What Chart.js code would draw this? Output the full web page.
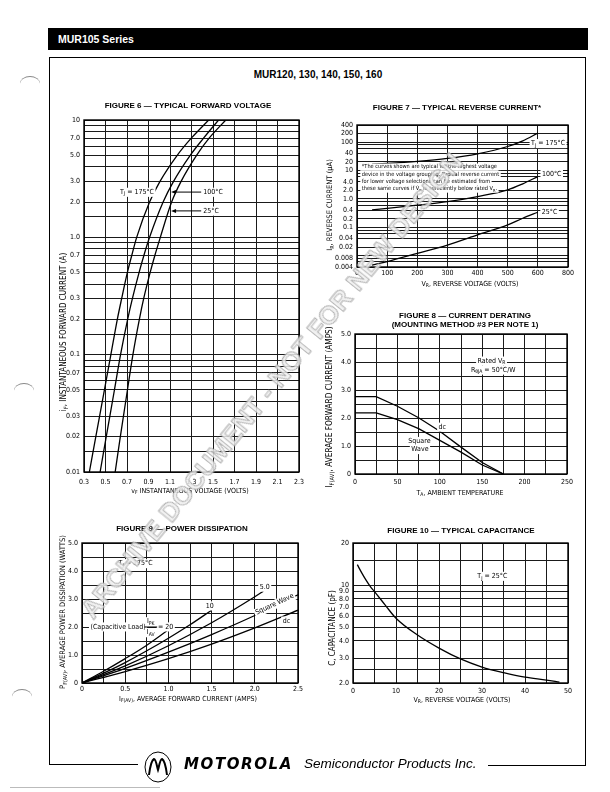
<!DOCTYPE html>
<html>
<head>
<meta charset="utf-8">
<title>MUR105 Series</title>
<script src="https://cdn.jsdelivr.net/npm/chart.js@4.4.1/dist/chart.umd.min.js"></script>
<style>
  html, body { margin: 0; padding: 0; background: #fff; }
  body { position: relative; width: 610px; height: 792px; overflow: hidden; font-family: 'Liberation Sans', Arial, sans-serif; color: #000; }
  canvas.sheet { position: absolute; left: 0; top: 0; pointer-events: none; }
  .header { position: absolute; left: 48px; top: 28px; width: 540px; height: 22px; background: #000; color: #fff;
            font-weight: bold; font-size: 10.5px; line-height: 22px; padding-left: 10px; box-sizing: border-box; }
  .frame { position: absolute; left: 49px; top: 57px; width: 537px; height: 708px; border: 1px solid #000; border-bottom: none; box-sizing: border-box; }
  .rule { position: absolute; height: 0; border-top: 1px solid #000; }
  .main-title { position: absolute; left: 0; width: 636px; top: 69px; text-align: center; font-weight: bold; font-size: 10px; }
  .logo { position: absolute; left: 143px; top: 751px; }
  .moto { position: absolute; left: 184px; top: 755px; font-family: 'DejaVu Sans', sans-serif; font-weight: bold; font-style: italic; font-size: 15px; letter-spacing: 1.6px; }
  .spi { position: absolute; left: 304px; top: 756px; font-style: italic; font-size: 13.5px; }
  .punch { position: absolute; width: 20px; height: 14px; border-top: 1px solid #888; border-radius: 50%; }
  .watermark { position: absolute; left: 272px; top: 386px; transform: translate(-50%, -50%) rotate(-51deg); white-space: nowrap;
               font-weight: bold; font-size: 26px; color: rgba(238,238,238,0.85); -webkit-text-stroke: 0.8px #aaa; z-index: 5; }
</style>
</head>
<body>
<div class="header">MUR105 Series</div>
<div class="frame"></div>
<div class="main-title">MUR120, 130, 140, 150, 160</div>
<div class="punch" style="left:20px;top:76px"></div>
<div class="punch" style="left:14px;top:383px"></div>
<div class="punch" style="left:12px;top:689px"></div>

<canvas class="sheet" id="fig6" width="610" height="792"></canvas>
<canvas class="sheet" id="fig7" width="610" height="792"></canvas>
<canvas class="sheet" id="fig8" width="610" height="792"></canvas>
<canvas class="sheet" id="fig9" width="610" height="792"></canvas>
<canvas class="sheet" id="fig10" width="610" height="792"></canvas>

<div class="rule" style="left:49px;top:764px;width:89px"></div>
<div class="rule" style="left:488px;top:765px;width:98px"></div>
<div class="rule" style="left:10px;top:787px;width:150px;border-color:#bbb"></div>
<svg class="logo" width="30" height="32" viewBox="0 0 30 32">
  <ellipse cx="15" cy="16" rx="13" ry="15" fill="none" stroke="#000" stroke-width="1"/>
  <path d="M6 24 C7 16 9 9 11 8 C13 8 14 16 15 19 C16 16 17 8 19 8 C21 9 23 16 24 24" fill="none" stroke="#000" stroke-width="2"/>
</svg>
<div class="moto">MOTOROLA</div>
<div class="spi">Semiconductor Products Inc.</div>
<div class="watermark">ARCHIVE DOCUMENT - NOT FOR NEW DESIGN</div>

<script>
// ---------- values read from the sheet ----------

// Figure 6: instantaneous forward current (A) against forward voltage (V)
const fig6Current = [0.01, 0.02, 0.05, 0.1, 0.2, 0.3, 0.5, 0.7, 1, 2, 3, 5, 7, 10];
const fig6Vf175 = [0.35, 0.41, 0.49, 0.55, 0.61, 0.65, 0.703, 0.744, 0.79, 0.91, 1.007, 1.167, 1.298, 1.46];
const fig6Vf100 = [0.45, 0.507, 0.583, 0.64, 0.706, 0.75, 0.812, 0.857, 0.91, 1.036, 1.133, 1.288, 1.412, 1.552];
const fig6Vf25 = [0.59, 0.638, 0.704, 0.755, 0.815, 0.855, 0.915, 0.959, 1.01, 1.115, 1.203, 1.347, 1.464, 1.619];
const fig6VoltTicks = [0.3, 0.5, 0.7, 0.9, 1.1, 1.3, 1.5, 1.7, 1.9, 2.1, 2.3];
const fig6VoltLabels = ['0.3', '0.5', '0.7', '0.9', '1.1', '1.3', '1.5', '1.7', '1.9', '2.1', '2.3'];
const fig6AmpTicks = [10, 7, 5, 3, 2, 1, 0.7, 0.5, 0.3, 0.2, 0.1, 0.07, 0.05, 0.03, 0.02, 0.01];
const fig6AmpLabels = ['10', '7.0', '5.0', '3.0', '2.0', '1.0', '0.7', '0.5', '0.3', '0.2', '0.1', '0.07', '0.05', '0.03', '0.02', '0.01'];

// Figure 7: reverse current (uA) against reverse voltage (V)
const fig7Volts = [50, 100, 200, 300, 400, 500, 550, 600];
const fig7Ir175 = [16.7, 17.7, 20.8, 26.5, 38.7, 70, 111, 208];
const fig7Ir100 = [0.41, 0.46, 0.60, 0.80, 1.21, 2.08, 3.4, 6.1];
const fig7Ir25 = [0.0047, 0.0062, 0.0121, 0.0238, 0.0537, 0.121, 0.208, 0.339];
const fig7VoltTicks = [0, 100, 200, 300, 400, 500, 600, 700];
const fig7VoltLabels = ['0', '100', '200', '300', '400', '500', '600', '800'];
const fig7AmpTicks = [400, 200, 100, 40, 20, 10, 4, 2, 1, 0.4, 0.2, 0.1, 0.04, 0.02, 0.008, 0.004];
const fig7AmpLabels = ['400', '200', '100', '40', '20', '10', '4.0', '2.0', '1.0', '0.4', '0.2', '0.1', '0.04', '0.02', '0.008', '0.004'];

// Figure 8: average forward current (A) against ambient temperature (C)
const fig8Temp = [0, 25, 50, 75, 100, 125, 150, 175];
const fig8Dc = [2.76, 2.76, 2.42, 2.01, 1.53, 0.96, 0.41, 0];
const fig8Square = [2.18, 2.18, 1.94, 1.62, 1.2, 0.78, 0.32, 0];
const fig8TempTicks = [0, 50, 100, 150, 200, 250];
const fig8TempLabels = ['0', '50', '100', '150', '200', '250'];
const fig8AmpTicks = [0, 1, 2, 3, 4, 5];
const fig8AmpLabels = ['0', '1.0', '2.0', '3.0', '4.0', '5.0'];

// Figure 9: average power dissipation (W) against average forward current (A)
const fig9AmpsTo1 = [0, 0.25, 0.5, 0.75, 1.0];
const fig9Ratio20 = [0, 0.42, 0.87, 1.35, 1.9];
const fig9AmpsTo15 = [0, 0.25, 0.5, 0.75, 1.0, 1.25, 1.5];
const fig9Ratio10 = [0, 0.35, 0.73, 1.15, 1.6, 2.08, 2.6];
const fig9AmpsTo21 = [0, 0.5, 1.0, 1.5, 2.0, 2.1];
const fig9Ratio5 = [0, 0.61, 1.33, 2.15, 3.08, 3.28];
const fig9AmpsTo25 = [0, 0.5, 1.0, 1.5, 2.0, 2.5];
const fig9Square = [0, 0.52, 1.1, 1.73, 2.41, 3.15];
const fig9Dc = [0, 0.41, 0.87, 1.39, 1.97, 2.6];
const fig9AmpTicks = [0, 0.5, 1, 1.5, 2, 2.5];
const fig9AmpLabels = ['0', '0.5', '1.0', '1.5', '2.0', '2.5'];
const fig9WattTicks = [0, 1, 2, 3, 4, 5];
const fig9WattLabels = ['0', '1.0', '2.0', '3.0', '4.0', '5.0'];

// Figure 10: capacitance (pF) against reverse voltage (V)
const fig10Volts = [1, 2, 3, 4, 5, 7.5, 10, 15, 20, 25, 30, 35, 40, 45, 48];
const fig10Cap = [14, 12.3, 10.9, 9.8, 9.0, 7.2, 5.8, 4.4, 3.55, 2.97, 2.6, 2.37, 2.2, 2.1, 2.03];
const fig10VoltTicks = [0, 10, 20, 30, 40, 50];
const fig10VoltLabels = ['0', '10', '20', '30', '40', '50'];
const fig10CapTicks = [20, 10, 9, 8, 7, 6, 5, 4, 3, 2];
const fig10CapLabels = ['20', '10', '9.0', '8.0', '7.0', '6.0', '5.0', '4.0', '3.0', '2.0'];

// ---------- drawing ----------
const PAGE_W = 610, PAGE_H = 792;
const AXIS_W = 30, AXIS_H = 20;
const NARROW = "'Liberation Sans Narrow', 'DejaVu Sans Condensed', 'Arial Narrow', sans-serif";
const PLAIN = "'Liberation Sans', Arial, sans-serif";

Chart.defaults.font.family = NARROW;
Chart.defaults.color = '#000';

function near(a, b) { return Math.abs(a - b) <= Math.abs(b) * 1e-6 + 1e-9; }

function linGrid(lo, hi, step) {
  const out = [];
  for (let v = lo; v <= hi + step / 1000; v += step) out.push(+v.toFixed(6));
  return out;
}

function logGrid(lo, hi, mantissas) {
  const out = [];
  for (let e = Math.floor(Math.log10(lo)) - 1; e <= Math.ceil(Math.log10(hi)); e++) {
    mantissas.forEach(m => {
      const v = +(m * Math.pow(10, e)).toPrecision(6);
      if (v >= lo * 0.999 && v <= hi * 1.001) out.push(v);
    });
  }
  return out;
}

function axis(type, min, max, grid, tickValues, tickLabels, pad) {
  return {
    type, min, max,
    afterBuildTicks: s => { s.ticks = grid.map(v => ({ value: v })); },
    afterFit: s => { if (s.isHorizontal()) s.height = AXIS_H; else s.width = AXIS_W; },
    grid: { color: '#1a1a1a', lineWidth: 1, drawTicks: false },
    border: { display: false },
    ticks: {
      autoSkip: false, maxRotation: 0, padding: pad, font: { size: 7 },
      callback: v => {
        const i = tickValues.findIndex(t => near(v, t));
        return i < 0 ? '' : tickLabels[i];
      }
    }
  };
}

function curve(xs, ys, smooth) {
  return {
    data: xs.map((x, i) => ({ x, y: ys[i] })),
    showLine: true, borderColor: '#000', borderWidth: 1.3, pointRadius: 0, fill: false,
    tension: 0, cubicInterpolationMode: smooth ? 'monotone' : 'default'
  };
}

function parseRich(str) {
  const out = [], re = /_\{([^}]*)\}/g;
  let last = 0, m;
  while ((m = re.exec(str))) {
    if (m.index > last) out.push({ t: str.slice(last, m.index), sub: false });
    out.push({ t: m[1], sub: true });
    last = re.lastIndex;
  }
  if (last < str.length) out.push({ t: str.slice(last), sub: false });
  return out;
}

function drawRich(ctx, text, x, y, o) {
  const size = o.size || 7, fam = o.family || NARROW;
  const font = s => (o.italic ? 'italic ' : '') + (o.bold ? 'bold ' : '') + s + 'px ' + fam;
  const parts = parseRich(text);
  let w = 0;
  parts.forEach(p => { ctx.font = font(p.sub ? size * 0.72 : size); p.w = ctx.measureText(p.t).width; w += p.w; });
  ctx.save();
  ctx.translate(x, y);
  if (o.angle) ctx.rotate(o.angle);
  let sx = o.align === 'left' ? 0 : o.align === 'right' ? -w : -w / 2;
  if (o.bg) { ctx.fillStyle = '#fff'; ctx.fillRect(sx - 1.5, -size * 0.62, w + 3, size * 1.3); }
  ctx.fillStyle = '#000';
  ctx.textBaseline = 'middle';
  parts.forEach(p => {
    ctx.font = font(p.sub ? size * 0.72 : size);
    ctx.fillText(p.t, sx, p.sub ? size * 0.3 : 0);
    sx += p.w;
  });
  ctx.restore();
}

function arrowLeft(ctx, x1, x2, y) {
  ctx.beginPath(); ctx.moveTo(x1, y); ctx.lineTo(x2 + 3, y); ctx.stroke();
  ctx.beginPath(); ctx.moveTo(x2, y); ctx.lineTo(x2 + 5, y - 2); ctx.lineTo(x2 + 5, y + 2); ctx.closePath(); ctx.fill();
}

// frame, titles, axis captions and curve labels
function decor(spec) {
  return {
    id: 'decor',
    afterDraw(chart) {
      const { ctx, chartArea: a, scales } = chart;
      const px = v => scales.x.getPixelForValue(v), py = v => scales.y.getPixelForValue(v);
      ctx.save();
      ctx.strokeStyle = '#000';
      ctx.fillStyle = '#000';
      ctx.lineWidth = 1.4;
      ctx.strokeRect(a.left, a.top, a.right - a.left, a.bottom - a.top);
      spec.title.forEach(t => drawRich(ctx, t.text, t.x, t.y, { size: 8, bold: true, family: PLAIN }));
      drawRich(ctx, spec.xTitle.text, spec.xTitle.x, spec.xTitle.y, { size: spec.xTitle.size || 7 });
      drawRich(ctx, spec.yTitle.text, spec.yTitle.x, spec.yTitle.y, { size: spec.yTitle.size || 7, angle: -Math.PI / 2 });
      (spec.notes || []).forEach(n => {
        drawRich(ctx, n.text, px(n.x) + (n.dx || 0), py(n.y) + (n.dy || 0), n);
      });
      ctx.lineWidth = 1;
      if (spec.extra) spec.extra(ctx, px, py);
      ctx.restore();
    }
  };
}

function sheetChart(id, plot, scales, datasets, spec) {
  return new Chart(document.getElementById(id), {
    type: 'scatter',
    data: { datasets },
    options: {
      responsive: false, animation: false, events: [],
      layout: { padding: { left: plot.l - AXIS_W, top: plot.t, right: PAGE_W - plot.r, bottom: PAGE_H - plot.b - AXIS_H } },
      plugins: { legend: { display: false }, tooltip: { enabled: false } },
      scales
    },
    plugins: [decor(spec)]
  });
}

// Figure 6
sheetChart('fig6', { l: 84, t: 120, r: 299, b: 472 }, {
  x: axis('linear', 0.3, 2.3, fig6VoltTicks, fig6VoltTicks, fig6VoltLabels, 6),
  y: axis('logarithmic', 0.01, 10, logGrid(0.01, 10, [1, 1.5, 2, 3, 4, 5, 6, 7, 8, 9]), fig6AmpTicks, fig6AmpLabels, 4)
}, [curve(fig6Vf175, fig6Current, true), curve(fig6Vf100, fig6Current, true), curve(fig6Vf25, fig6Current, true)], {
  title: [{ text: 'FIGURE 6 — TYPICAL FORWARD VOLTAGE', x: 188, y: 106 }],
  xTitle: { text: 'v_{F} INSTANTANEOUS VOLTAGE (VOLTS)', x: 190, y: 491 },
  yTitle: { text: 'i_{F}, INSTANTANEOUS FORWARD CURRENT (A)', x: 64, y: 332, size: 8 },
  notes: [
    { text: 'T_{J} = 175°C', x: 0.793, y: 2.43, bg: true },
    { text: '100°C', x: 1.41, y: 2.43, align: 'left', bg: true },
    { text: '25°C', x: 1.41, y: 1.68, align: 'left', bg: true }
  ],
  extra: (ctx, px, py) => {
    arrowLeft(ctx, px(1.39), px(1.11), py(2.43));
    arrowLeft(ctx, px(1.39), px(1.11), py(1.68));
  }
});

// Figure 7
sheetChart('fig7', { l: 357, t: 125, r: 568, b: 267 }, {
  x: axis('linear', 0, 700, fig7VoltTicks, fig7VoltTicks, fig7VoltLabels, 2),
  y: axis('logarithmic', 0.004, 400, logGrid(0.004, 400, [1, 2, 4, 6, 8]), fig7AmpTicks, fig7AmpLabels, 4)
}, [curve(fig7Volts, fig7Ir175, true), curve(fig7Volts, fig7Ir100, true), curve(fig7Volts, fig7Ir25, true)], {
  title: [{ text: 'FIGURE 7 — TYPICAL REVERSE CURRENT*', x: 457, y: 108 }],
  xTitle: { text: 'V_{R}, REVERSE VOLTAGE (VOLTS)', x: 470, y: 284 },
  yTitle: { text: 'I_{R}, REVERSE CURRENT (μA)', x: 330, y: 205, size: 7.5 },
  notes: [
    { text: 'T_{J} = 175°C', x: 634, y: 90, bg: true },
    { text: '100°C', x: 646, y: 7.5, bg: true },
    { text: '25°C', x: 639, y: 0.337, bg: true },
    { text: '*The curves shown are typical for the highest voltage', x: 16, y: 13.3, align: 'left', size: 5.6, bg: true },
    { text: 'device in the voltage grouping. Typical reverse current', x: 16, y: 13.3, dy: 7.3, align: 'left', size: 5.6, bg: true },
    { text: 'for lower voltage selections can be estimated from', x: 16, y: 13.3, dy: 14.6, align: 'left', size: 5.6, bg: true },
    { text: 'these same curves if V_{R} is sufficiently below rated V_{R}.', x: 16, y: 13.3, dy: 21.9, align: 'left', size: 5.6, bg: true }
  ]
});

// Figure 8
sheetChart('fig8', { l: 355, t: 334, r: 567, b: 474 }, {
  x: axis('linear', 0, 250, linGrid(0, 250, 25), fig8TempTicks, fig8TempLabels, 4),
  y: axis('linear', 0, 5, linGrid(0, 5, 0.5), fig8AmpTicks, fig8AmpLabels, 4)
}, [curve(fig8Temp, fig8Dc, false), curve(fig8Temp, fig8Square, false)], {
  title: [
    { text: 'FIGURE 8 — CURRENT DERATING', x: 465, y: 316 },
    { text: '(MOUNTING METHOD #3 PER NOTE 1)', x: 465, y: 325 }
  ],
  xTitle: { text: 'T_{A}, AMBIENT TEMPERATURE', x: 460, y: 493 },
  yTitle: { text: 'I_{F(AV)}, AVERAGE FORWARD CURRENT (AMPS)', x: 330, y: 407, size: 8.2 },
  notes: [
    { text: 'Rated V_{R}', x: 161, y: 4.04, bg: true },
    { text: 'R_{θJA} = 50°C/W', x: 163, y: 3.72, bg: true },
    { text: 'dc', x: 103, y: 1.68, bg: true },
    { text: 'Square', x: 76, y: 1.17, bg: true },
    { text: 'Wave', x: 76.6, y: 0.88, bg: true }
  ]
});

// Figure 9
sheetChart('fig9', { l: 82, t: 543, r: 298, b: 683 }, {
  x: axis('linear', 0, 2.5, linGrid(0, 2.5, 0.25), fig9AmpTicks, fig9AmpLabels, 2),
  y: axis('linear', 0, 5, linGrid(0, 5, 0.5), fig9WattTicks, fig9WattLabels, 4)
}, [
  curve(fig9AmpsTo1, fig9Ratio20, true), curve(fig9AmpsTo15, fig9Ratio10, true), curve(fig9AmpsTo21, fig9Ratio5, true),
  curve(fig9AmpsTo25, fig9Square, true), curve(fig9AmpsTo25, fig9Dc, true)
], {
  title: [{ text: 'FIGURE 9 — POWER DISSIPATION', x: 182, y: 529 }],
  xTitle: { text: 'I_{F(AV)}, AVERAGE FORWARD CURRENT (AMPS)', x: 188, y: 699 },
  yTitle: { text: 'P_{F(AV)}, AVERAGE POWER DISSIPATION (WATTS)', x: 63, y: 612, size: 7.5 },
  notes: [
    { text: 'T_{J} = 175°C', x: 0.62, y: 4.27, bg: true },
    { text: '5.0', x: 2.115, y: 3.43, bg: true },
    { text: '10', x: 1.478, y: 2.76, bg: true },
    { text: 'Square Wave', x: 2.23, y: 2.81, angle: -0.44, bg: true },
    { text: 'dc', x: 2.366, y: 2.22, bg: true },
    { text: '(Capacitive Load)', x: 0.417, y: 2.01, bg: true },
    { text: 'I_{PK}', x: 0.795, y: 2.0, dy: -5.5, bg: true },
    { text: 'I_{AV}', x: 0.795, y: 2.0, dy: 5.5, bg: true },
    { text: '= 20', x: 0.88, y: 2.01, align: 'left', bg: true }
  ],
  extra: (ctx, px, py) => {
    ctx.beginPath(); ctx.moveTo(px(0.72), py(2.0)); ctx.lineTo(px(0.87), py(2.0)); ctx.stroke();
  }
});

// Figure 10
sheetChart('fig10', { l: 353, t: 543, r: 568, b: 683 }, {
  x: axis('linear', 0, 50, linGrid(0, 50, 5), fig10VoltTicks, fig10VoltLabels, 4),
  y: axis('logarithmic', 2, 20, [2, 2.5, 3, 4, 5, 6, 7, 8, 9, 10, 15, 20], fig10CapTicks, fig10CapLabels, 4)
}, [curve(fig10Volts, fig10Cap, true)], {
  title: [{ text: 'FIGURE 10 — TYPICAL CAPACITANCE', x: 461, y: 531 }],
  xTitle: { text: 'V_{R}, REVERSE VOLTAGE (VOLTS)', x: 462, y: 700 },
  yTitle: { text: 'C, CAPACITANCE (pF)', x: 333, y: 628, size: 8 },
  notes: [{ text: 'T_{J} = 25°C', x: 32.4, y: 11.6, bg: true }]
});
</script>
</body>
</html>
